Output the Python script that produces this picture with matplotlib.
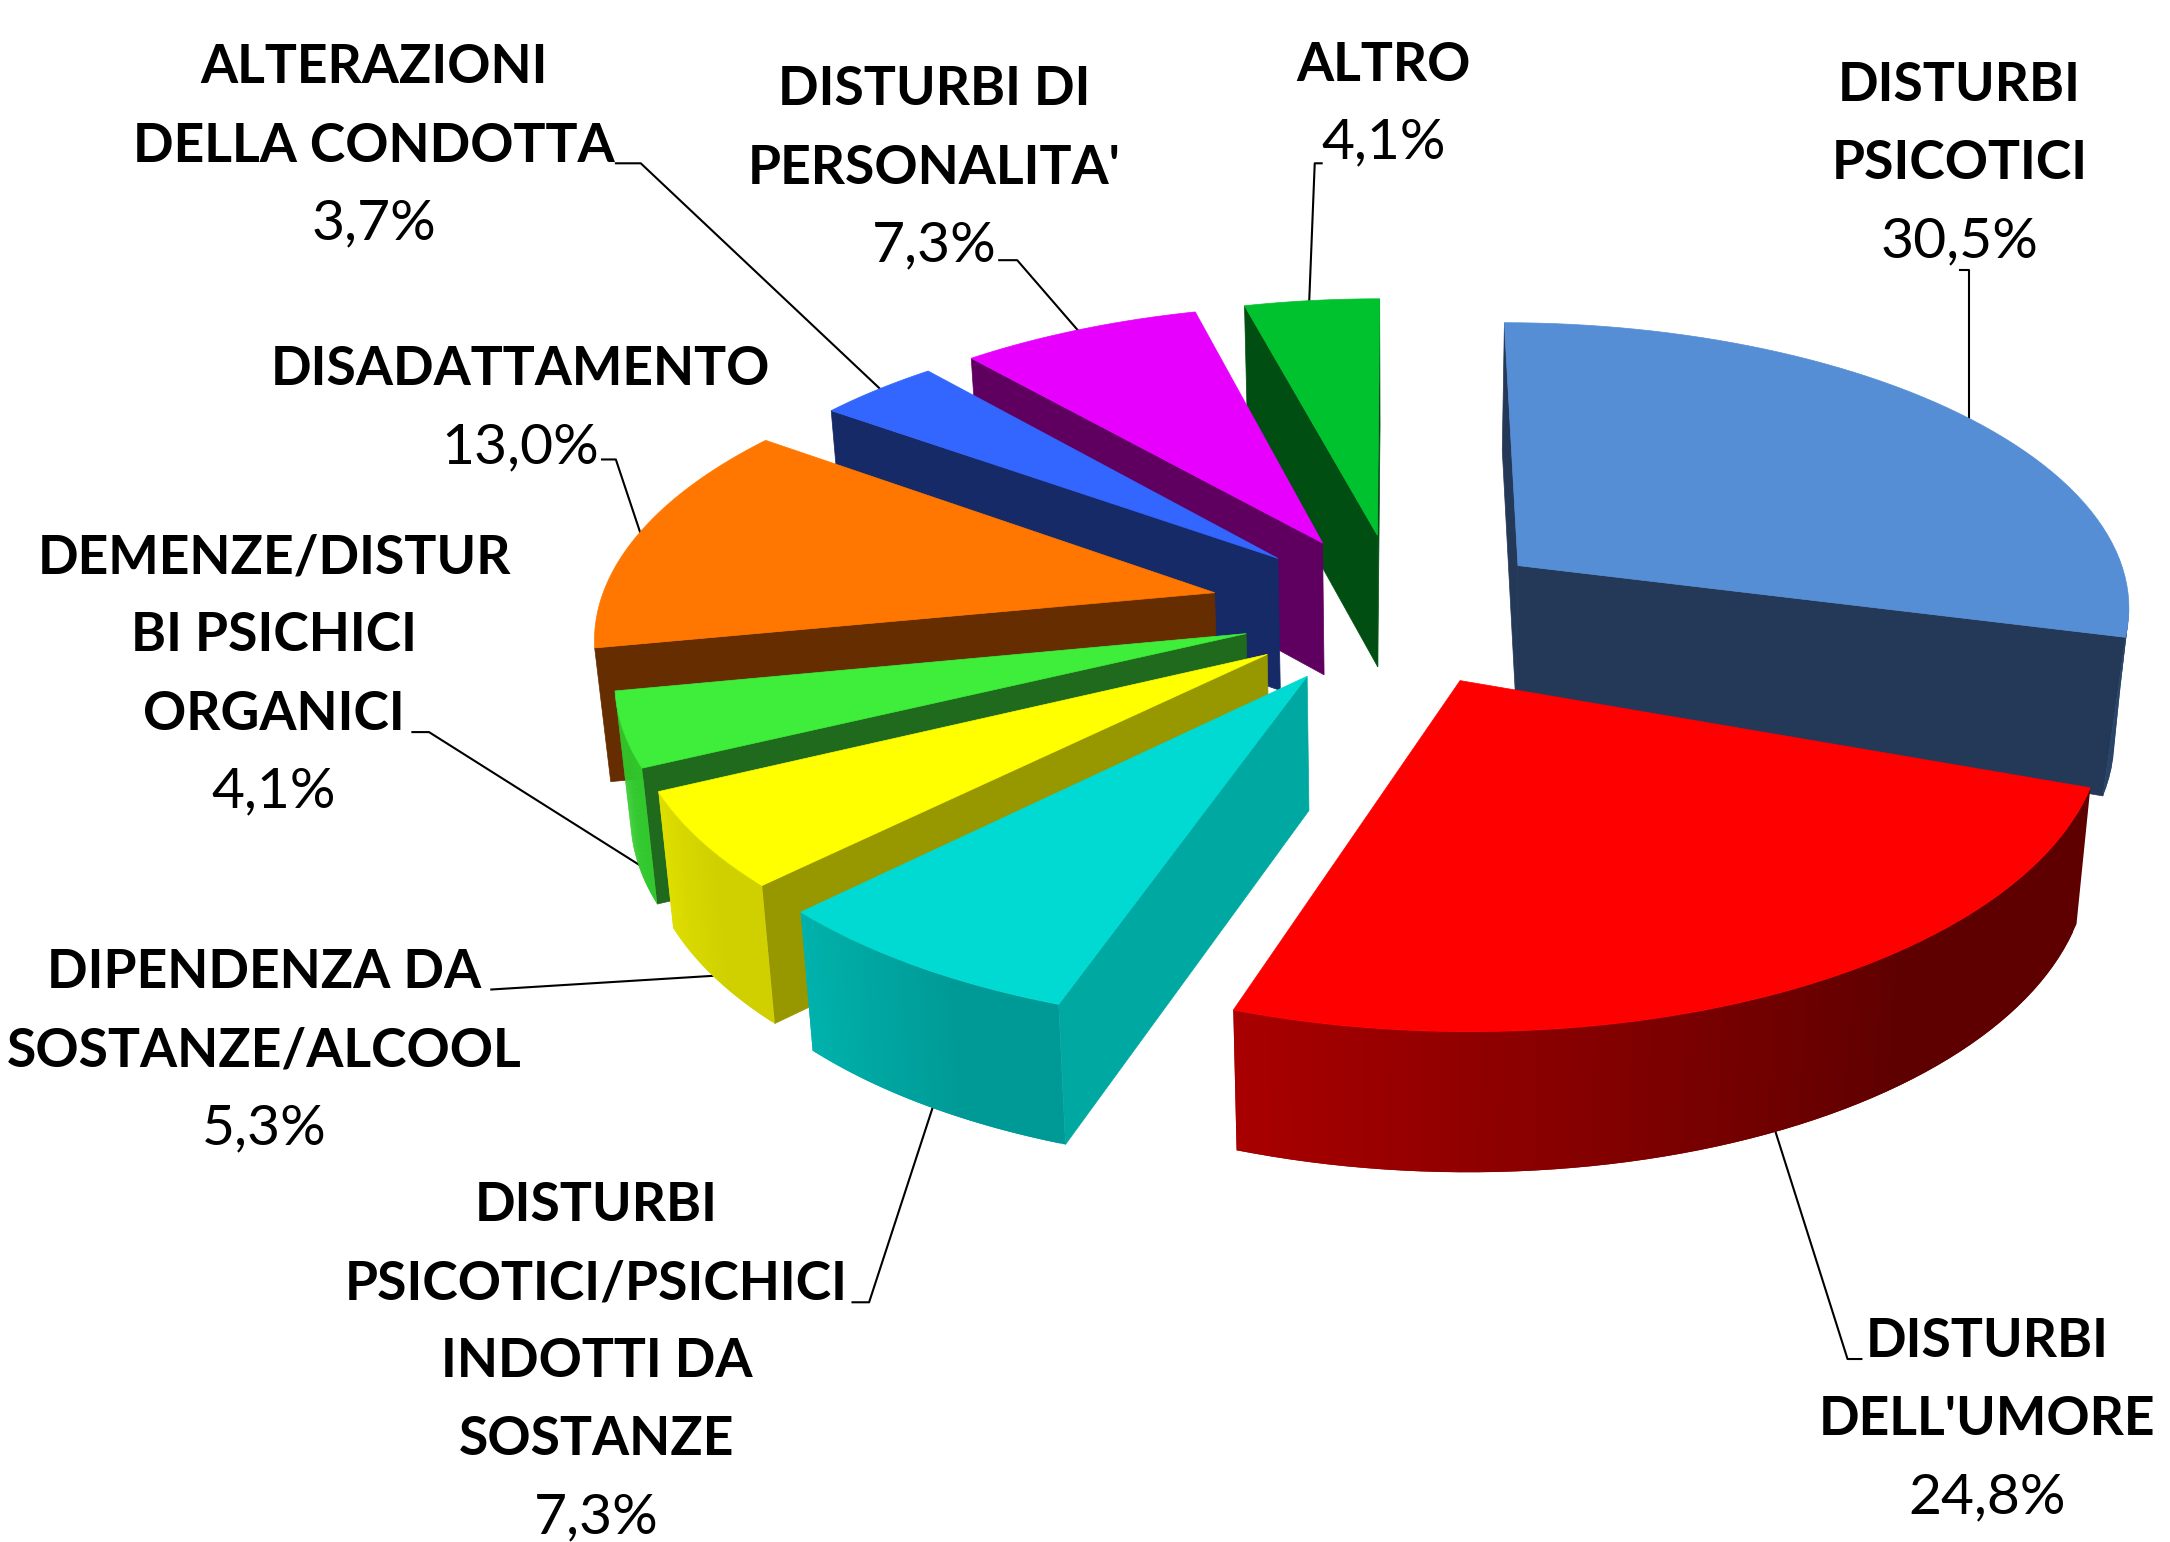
import numpy as np
import matplotlib
matplotlib.use("Agg")
import matplotlib.pyplot as plt
from matplotlib.patches import Polygon

names = [["DISTURBI", "PSICOTICI"],
         ["DISTURBI", "DELL'UMORE"],
         ["DISTURBI", "PSICOTICI/PSICHICI", "INDOTTI DA", "SOSTANZE"],
         ["DIPENDENZA DA", "SOSTANZE/ALCOOL"],
         ["DEMENZE/DISTUR", "BI PSICHICI", "ORGANICI"],
         ["DISADATTAMENTO"],
         ["ALTERAZIONI", "DELLA CONDOTTA"],
         ["DISTURBI DI", "PERSONALITA'"],
         ["ALTRO"]]
values = [30.5, 24.8, 7.3, 5.3, 4.1, 13.0, 3.7, 7.3, 4.1]

top_col = ["#558ED5", "#FF0000", "#00DAD2", "#FFFF00", "#3EEE3B", "#FF7700", "#3366FF", "#E800FF", "#00C22E"]
wall_col = ["#243858", "#660000", "#00A8A2", "#979700", "#1F6A1C", "#662D00", "#152A66", "#5F0060", "#004E12"]
rim_left = ["#2A4468", "#A80000", "#00B2AC", "#DEDE00", "#38D632", "#662D00", "#152A66", "#5F0060", "#004E12"]
rim_right = ["#243858", "#5E0000", "#009A96", "#D0D000", "#30C82C", "#662D00", "#152A66", "#5F0060", "#004E12"]

# label centre x, first line y, in shrunk picture px
label_x = [1416, 1436, 431, 191, 198, 376, 270, 675, 1000]
label_y = [62, 969, 871, 703, 403, 267, 49, 65, 47]

leaders = [[(1423, 305), (1423, 195), (1416, 195)],
           [(1283, 818), (1335, 982), (1345, 982)],
           [(675, 797), (628, 941), (616, 941)],
           [(517, 705), (355, 715)],
           [(462, 625), (310, 529), (298, 529)],
           [(463, 386), (445, 332), (435, 332)],
           [(637, 282), (463, 118), (445, 118)],
           [(780, 240), (735, 188), (722, 188)],
           [(946, 218), (950, 118), (955, 118)]]

SC = 2170 / 1568
line_h = 56.5 * SC

cx, cy = 1398, 609
a, b = 616, 285
k = 0.13
h = 133
explode_x = [0.243, 0.225, 0.27, 0.255, 0.257, 0.307, 0.27, 0.27, 0.27]
explode_y = 0.27
# the blue top edge sits a bit higher than its wall in the picture
top_trim = np.radians([5, 0, 0, 0, 0, 0, 0, 0, 0])


def proj(X, Y, low=False):
    # Y is towards the viewer, low=True is the underside of the pie
    s = 1 / (1 - k * Y)
    x = a * X * s
    y = b * Y * s
    if low:
        return cx + x * 0.98, cy + y + h * (1 + 0.3 * (s - 1))
    return cx + x, cy + y


def mix(c1, c2, t):
    c1 = np.array(matplotlib.colors.to_rgb(c1))
    c2 = np.array(matplotlib.colors.to_rgb(c2))
    return tuple(c1 + (c2 - c1) * t)


def area(pts):
    p = np.array(pts)
    return 0.5 * np.sum(p[:, 0] * np.roll(p[:, 1], -1) - np.roll(p[:, 0], -1) * p[:, 1])


fig = plt.figure(figsize=(21.7, 15.42), dpi=100)
ax = fig.add_axes([0, 0, 1, 1])
ax.set_xlim(0, 2170)
ax.set_ylim(1542, 0)
ax.axis("off")

for pts in leaders:
    p = np.array(pts) * SC
    ax.plot(p[:, 0], p[:, 1], color="black", lw=1.5, zorder=1)

total = sum(values)
edges = np.cumsum([0] + values) / total * 2 * np.pi

# far slices first
mids = (edges[:-1] + edges[1:]) / 2
order = np.argsort(-np.cos(mids))

z = 2
for i in order:
    n = 60
    t = np.linspace(edges[i], edges[i + 1], n)
    t_top = np.linspace(edges[i], edges[i + 1] - top_trim[i], n)
    ox = explode_x[i] * np.sin(mids[i])
    oy = -explode_y * np.cos(mids[i])
    X = ox + np.sin(t)
    Y = oy - np.cos(t)
    Xt = ox + np.sin(t_top)
    Yt = oy - np.cos(t_top)

    # radial walls
    for e in (0, n - 1):
        wall = [proj(ox, oy), proj(Xt[e], Yt[e]), proj(X[e], Y[e], True), proj(ox, oy, True)]
        if e == 0:
            wall = wall[::-1]
        if area(wall) > 0:
            ax.add_patch(Polygon(wall, closed=True, fc=wall_col[i], ec=wall_col[i], lw=0.5, zorder=z))
            z += 1

    # outer rim, small quads that overlap the next one so no seams show
    for j in range(n - 1):
        j2 = min(j + 2, n - 1)
        q = [proj(Xt[j], Yt[j]), proj(Xt[j2], Yt[j2]), proj(X[j2], Y[j2], True), proj(X[j], Y[j], True)]
        if area(q) < 0:
            f = np.clip((j / (n - 2) - 0.35) / 0.65, 0, 1)
            c = mix(rim_right[i], rim_left[i], f)
            ax.add_patch(Polygon(q, closed=True, fc=c, ec="none", zorder=z))
            z += 0.001
    z = int(z) + 1

    # top face
    poly = [proj(ox, oy)] + [proj(Xt[j], Yt[j]) for j in range(n)]
    ax.add_patch(Polygon(poly, closed=True, fc=top_col[i], ec=top_col[i], lw=0.5, zorder=z))
    z += 1

for i in range(len(values)):
    y = label_y[i] * SC
    for line in names[i]:
        ax.text(label_x[i] * SC, y, line, ha="center", va="center", family="Lato",
                fontweight="bold", fontsize=38.5, color="black", zorder=100)
        y += line_h
    pct = f"{values[i]:.1f}%".replace(".", ",")
    ax.text(label_x[i] * SC, y, pct, ha="center", va="center", family="Lato",
            fontsize=41, color="black", zorder=100)

fig.savefig("out.png", dpi=100)
